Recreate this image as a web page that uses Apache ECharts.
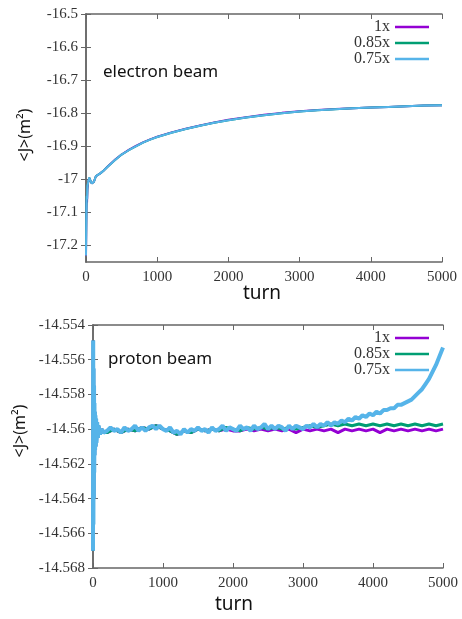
<!DOCTYPE html>
<html><head><meta charset="utf-8">
<script src="https://cdn.jsdelivr.net/npm/echarts@6/dist/echarts.min.js"></script>
<style>html,body{margin:0;padding:0;background:#fff}#c{width:462px;height:619px}</style>
</head><body><div id="c"></div>
<script>
// ---- data ----
var seriesNames = ['1x', '0.85x', '0.75x'];
var seriesColors = ['#9400D3', '#009E73', '#56B4E9'];
var xTicks = [0, 1000, 2000, 3000, 4000, 5000];
var yTicksElectron = [-17.2, -17.1, -17.0, -16.9, -16.8, -16.7, -16.6, -16.5];
var yTicksProton = [-14.568, -14.566, -14.564, -14.562, -14.56, -14.558, -14.556, -14.554];

// electron beam
var turnsElectron = [0,3,6,10,15,20,30,45,60,80,95,110,140,200,250,300,400,500,600,700,800,900,1000,1200,1400,1600,1800,2000,2250,2500,2750,3000,3250,3500,3750,4000,4250,4500,4750,5000];
var electron1x = [-17.23,-17.16,-17.09,-17.06,-17.07,-17.03,-17.01,-16.996,-17.0,-17.012,-17.017,-17.008,-16.99,-16.982,-16.973,-16.962,-16.942,-16.925,-16.911,-16.899,-16.888,-16.879,-16.871,-16.858,-16.847,-16.837,-16.828,-16.820,-16.812,-16.805,-16.799,-16.794,-16.790,-16.787,-16.785,-16.783,-16.781,-16.779,-16.777,-16.776];
var electron085x = [-17.22,-17.15,-17.08,-17.05,-17.06,-17.02,-17.01,-16.995,-17.0,-17.012,-17.018,-17.008,-16.99,-16.982,-16.973,-16.963,-16.943,-16.925,-16.912,-16.900,-16.889,-16.880,-16.872,-16.859,-16.848,-16.838,-16.829,-16.821,-16.813,-16.806,-16.800,-16.795,-16.791,-16.788,-16.785,-16.783,-16.781,-16.779,-16.777,-16.776];
var electron075x = [-17.23,-17.15,-17.08,-17.05,-17.06,-17.02,-17.01,-16.995,-17.0,-17.012,-17.018,-17.008,-16.99,-16.982,-16.973,-16.963,-16.943,-16.925,-16.912,-16.900,-16.889,-16.880,-16.872,-16.859,-16.848,-16.838,-16.829,-16.821,-16.813,-16.806,-16.800,-16.795,-16.791,-16.788,-16.785,-16.783,-16.781,-16.779,-16.777,-16.776];

// proton beam: start-up oscillation (shared turns), then the long run
var turnsProtonStart = [0,3,6,9,12,15,18,21,24,27,30,35,40,45,50,60,70,80,100,125,150];
var protonStart = [-14.5670,-14.5549,-14.5655,-14.5565,-14.5640,-14.5575,-14.5625,-14.5585,-14.5615,-14.5590,-14.5612,-14.5592,-14.5610,-14.5594,-14.5608,-14.5596,-14.5605,-14.5598,-14.5603,-14.5600,-14.5602];
var turnsProtonCoarse = [200,300,400,500,600,700,800,900,1000,1100,1200,1300,1400,1500,1600,1700,1800,1900,2000,2100,2200,2300,2400,2500,2600,2700,2800,2900,3000,3100,3200,3300,3400,3500,3600,3700,3800,3900,4000,4100,4200,4300,4400,4500,4600,4700,4800,4900,5000];
var proton1x = [-14.5602,-14.5600,-14.5602,-14.5600,-14.5601,-14.5599,-14.5600,-14.5598,-14.5600,-14.5601,-14.5603,-14.5601,-14.5602,-14.5600,-14.5601,-14.5600,-14.5601,-14.5600,-14.5601,-14.5601,-14.5600,-14.5601,-14.5600,-14.5601,-14.5600,-14.5601,-14.5600,-14.5602,-14.5600,-14.5601,-14.5600,-14.5601,-14.5600,-14.5602,-14.5600,-14.5601,-14.5600,-14.5601,-14.5600,-14.5602,-14.5600,-14.5601,-14.5600,-14.5601,-14.5600,-14.5601,-14.5600,-14.5601,-14.5600];
var proton085x = [-14.5602,-14.5600,-14.5602,-14.5600,-14.5601,-14.5599,-14.5600,-14.5598,-14.5600,-14.5601,-14.5603,-14.5601,-14.5602,-14.5600,-14.5601,-14.5600,-14.5601,-14.5599,-14.5600,-14.5601,-14.5599,-14.5600,-14.5599,-14.5600,-14.5599,-14.5600,-14.5599,-14.5600,-14.5599,-14.5598,-14.5599,-14.5598,-14.5597,-14.5598,-14.5597,-14.5598,-14.5597,-14.5598,-14.5597,-14.5598,-14.5597,-14.5598,-14.5597,-14.5598,-14.5597,-14.5598,-14.5597,-14.5598,-14.5597];
var turnsProtonFine = [200,250,300,350,400,450,500,550,600,650,700,750,800,850,900,950,1000,1050,1100,1150,1200,1250,1300,1350,1400,1450,1500,1550,1600,1650,1700,1750,1800,1850,1900,1950,2000,2050,2100,2150,2200,2250,2300,2350,2400,2450,2500,2550,2600,2650,2700,2750,2800,2850,2900,2950,3000,3050,3100,3150,3200,3250,3300,3350,3400,3450,3500,3550,3600,3650,3700,3750,3800,3850,3900,3950,4000,4050,4100,4150,4200,4250,4300,4350,4400,4450,4500,4550,4600,4650,4700,4750,4800,4850,4900,4950,5000];
var proton075x = [-14.5601,-14.5599,-14.5601,-14.5600,-14.5602,-14.5599,-14.5601,-14.5600,-14.5598,-14.5601,
  -14.5599,-14.5601,-14.5599,-14.5598,-14.5600,-14.5598,-14.5600,-14.5601,-14.5599,-14.5602,
  -14.5601,-14.5603,-14.5600,-14.5602,-14.5600,-14.5601,-14.5599,-14.5601,-14.5600,-14.5602,
  -14.5599,-14.5601,-14.5600,-14.5598,-14.5601,-14.5599,-14.5600,-14.5601,-14.5598,-14.5600,
  -14.5599,-14.5601,-14.5598,-14.5600,-14.5599,-14.5597,-14.5600,-14.5598,-14.5600,-14.5598,
  -14.5599,-14.5601,-14.5598,-14.5600,-14.5598,-14.5599,-14.5600,-14.5598,-14.5599,-14.5597,
  -14.5599,-14.5597,-14.5598,-14.5596,-14.5598,-14.5596,-14.5597,-14.5595,-14.5596,-14.5594,
  -14.5595,-14.5593,-14.5594,-14.5592,-14.5593,-14.5591,-14.5592,-14.5590,-14.5591,-14.5589,
  -14.5589,-14.5588,-14.5588,-14.5586,-14.5586,-14.5585,-14.5584,-14.5583,-14.5581,-14.5579,
  -14.5577,-14.5574,-14.5571,-14.5567,-14.5563,-14.5558,-14.5553];

// ---- chart ----
function pairs(xs, ys){ return xs.map(function(x,i){ return [x, ys[i]]; }); }
var tickFont = {fontFamily:'Liberation Serif', fontSize:15, color:'#333'};
var axisLine = {lineStyle:{color:'#666', width:1.5}};
function xAx(gi, pos, labels){
  return {type:'value', gridIndex:gi, position:pos, min:0, max:5000, interval:1000,
    axisLine:axisLine, axisTick:{inside:true, length:5, lineStyle:{color:'#666'}, customValues:xTicks},
    axisLabel:{show:labels, margin:8, customValues:xTicks, fontFamily:'Liberation Serif', fontSize:15, color:'#333',
      formatter:function(v){ return String(Math.round(v)); }},
    splitLine:{show:false}};
}
function yAx(gi, pos, labels, mn, mx, ticks, dec){
  return {type:'value', gridIndex:gi, position:pos, min:mn, max:mx,
    axisLine:axisLine,
    axisTick:{inside:true, length:5, lineStyle:{color:'#666'}, customValues:ticks},
    axisLabel:{show:labels, margin:8, customValues:ticks, fontFamily:'Liberation Serif', fontSize:15, color:'#333',
      formatter:function(v){ return String(+(+v).toFixed(dec)); }},
    splitLine:{show:false}};
}
var eData = [electron1x, electron085x, electron075x];
var pTurns = [turnsProtonCoarse, turnsProtonCoarse, turnsProtonFine];
var pData = [proton1x, proton085x, proton075x];
var pWidth = [3, 3, 4];
var series = [];
seriesNames.forEach(function(n,i){
  series.push({type:'line', name:n, xAxisIndex:0, yAxisIndex:0, data:pairs(turnsElectron, eData[i]),
    showSymbol:false, lineStyle:{width:2, color:seriesColors[i]}, itemStyle:{color:seriesColors[i]}, z:2+i});
});
seriesNames.forEach(function(n,i){
  series.push({type:'line', name:n, xAxisIndex:2, yAxisIndex:2,
    data:pairs(turnsProtonStart, protonStart).concat(pairs(pTurns[i], pData[i])),
    showSymbol:false, lineStyle:{width:pWidth[i], color:seriesColors[i]}, itemStyle:{color:seriesColors[i]}, z:2+i});
});
var legendBase = {orient:'vertical', align:'right', icon:'rect', itemWidth:34, itemHeight:2.5, itemGap:0,
  data:seriesNames, textStyle:{fontFamily:'Liberation Serif', fontSize:16, lineHeight:15, color:'#333'}};
var titleFont = {fontFamily:'Noto Sans', fill:'#111'};
var option = {
  animation:false,
  backgroundColor:'#fff',
  grid:[{left:86, top:14, width:356, height:248},{left:93, top:325, width:350, height:243}],
  xAxis:[xAx(0,'bottom',true), xAx(0,'top',false), xAx(1,'bottom',true), xAx(1,'top',false)],
  yAxis:[yAx(0,'left',true,-17.25,-16.5,yTicksElectron,2), yAx(0,'right',false,-17.25,-16.5,yTicksElectron,2),
         yAx(1,'left',true,-14.568,-14.554,yTicksProton,3), yAx(1,'right',false,-14.568,-14.554,yTicksProton,3)],
  legend:[Object.assign({right:28, top:14}, legendBase), Object.assign({right:28, top:325}, legendBase)],
  series:series,
  graphic:[
    {type:'text', left:103, top:64, style:Object.assign({text:'electron beam', fontSize:17}, titleFont)},
    {type:'text', left:108, top:351, style:Object.assign({text:'proton beam', fontSize:17}, titleFont)},
    {type:'text', x:25, y:135, rotation:Math.PI/2, style:Object.assign({text:'<J>(m²)', fontSize:16, align:'center', verticalAlign:'middle'}, titleFont)},
    {type:'text', x:20, y:431, rotation:Math.PI/2, style:Object.assign({text:'<J>(m²)', fontSize:16, align:'center', verticalAlign:'middle'}, titleFont)},
    {type:'text', x:262, y:294, style:Object.assign({text:'turn', fontSize:19, align:'center', verticalAlign:'middle'}, titleFont)},
    {type:'text', x:234, y:605, style:Object.assign({text:'turn', fontSize:19, align:'center', verticalAlign:'middle'}, titleFont)}
  ]
};
echarts.init(document.getElementById('c')).setOption(option);
</script></body></html>
